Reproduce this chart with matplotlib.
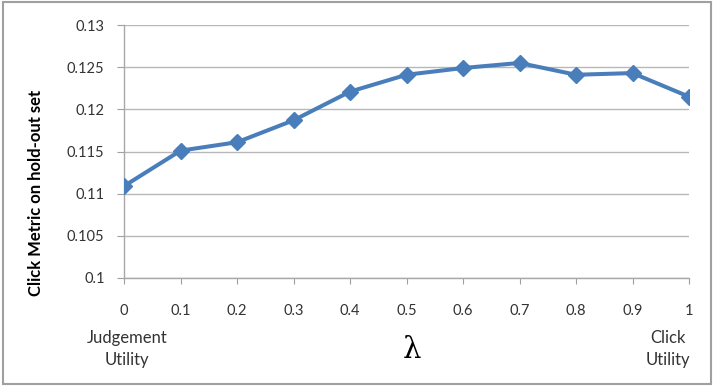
import numpy as np
import matplotlib.pyplot as plt
from matplotlib.patches import Rectangle

# values
lam = [0, 0.1, 0.2, 0.3, 0.4, 0.5, 0.6, 0.7, 0.8, 0.9, 1]
click_metric = [0.1109, 0.1151, 0.1161, 0.1187, 0.1221, 0.1241, 0.1249, 0.1255, 0.1241, 0.1243, 0.1215]
y_ticks = [0.1, 0.105, 0.11, 0.115, 0.12, 0.125, 0.13]
y_labels = ['0.1', '0.105', '0.11', '0.115', '0.12', '0.125', '0.13']
x_labels = ['0', '0.1', '0.2', '0.3', '0.4', '0.5', '0.6', '0.7', '0.8', '0.9', '1']

plt.rcParams['font.family'] = ['Lato', 'DejaVu Sans']

fig = plt.figure(figsize=(7.14, 3.86), dpi=100)
ax = fig.add_axes([0.1737, 0.2798, 0.7913, 0.6554])

ax.plot(lam, click_metric, color='#4a7ebb', linewidth=2.9, marker='D',
        markersize=8.5, zorder=3)

ax.set_xlim(0, 1)
ax.set_ylim(0.1, 0.13)
ax.set_yticks(y_ticks)
ax.set_yticklabels(y_labels, fontsize=10.5, color='#333333')
ax.set_xticks(lam)
ax.set_xticklabels(x_labels, fontsize=10.5, color='#333333')
ax.tick_params(axis='x', length=4, color='#a0a0a0', pad=15)
ax.tick_params(axis='y', length=5, color='#a0a0a0', pad=9)

ax.grid(axis='y', color='#b8b8b8', linewidth=1)
ax.set_axisbelow(True)
for s in ['top', 'right']:
    ax.spines[s].set_visible(False)
for s in ['left', 'bottom']:
    ax.spines[s].set_color('#a8a8a8')
    ax.spines[s].set_linewidth(1)

ax.set_ylabel('Click Metric on hold-out set', fontsize=12, fontweight='bold')
ax.yaxis.set_label_coords(44 / 714, 0.5, transform=fig.transFigure)

fig.text(412 / 714, 1 - 350 / 386, 'λ', fontsize=21, ha='center', va='center',
         family=['DejaVu Serif'])
fig.text(127 / 714, 1 - 349 / 386, 'Judgement\nUtility', fontsize=12,
         ha='center', va='center', linespacing=1.45, color='#333333')
fig.text(668 / 714, 1 - 349 / 386, 'Click\nUtility', fontsize=12,
         ha='center', va='center', linespacing=1.45, color='#333333')

# outer chart border
fig.patches.append(Rectangle((0.004, 0.006), 0.992, 0.988, transform=fig.transFigure,
                             fill=False, edgecolor='#a0a0a0', linewidth=1.5))

fig.savefig('out.png', dpi=100)
